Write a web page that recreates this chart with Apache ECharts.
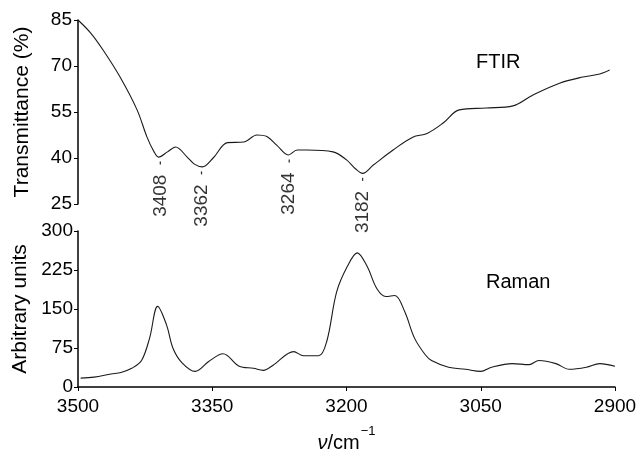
<!DOCTYPE html>
<html>
<head>
<meta charset="utf-8">
<script src="https://cdn.jsdelivr.net/npm/echarts@6/dist/echarts.min.js"></script>
<style>
  html, body { margin: 0; padding: 0; background: #fff; }
  #chart { width: 641px; height: 454px; }
</style>
</head>
<body>
<div id="chart"></div>
<script>
const xTicks = [2900, 3050, 3200, 3350, 3500];
const ftirTicks = [25, 40, 55, 70, 85];
const ramanTicks = [0, 75, 150, 225, 300];

const ftirWavenumber = [3500, 3486, 3472, 3453, 3434, 3423, 3415, 3410, 3400, 3391, 3378, 3370, 3361, 3349, 3333, 3315, 3300, 3289, 3278, 3265, 3255, 3244, 3215, 3200, 3190, 3182, 3170, 3148, 3126, 3110, 3092, 3074, 3044, 3014, 2992, 2962, 2936, 2917, 2906];
const ftirTransmittance = [85, 80.8, 75.2, 66.4, 55.7, 46.9, 42, 40.3, 42, 43.6, 40.3, 38, 37.1, 40, 45, 45.2, 47.5, 47, 44.2, 41, 42.6, 42.6, 42, 39.4, 36.5, 35, 37.7, 42.6, 46.8, 48, 51.4, 55.7, 56.3, 57, 60.5, 64.4, 66.4, 67.4, 68.7];

const ramanWavenumber = [3497, 3482, 3463, 3452, 3440, 3429, 3420, 3411, 3401, 3394, 3384, 3369, 3354, 3338, 3320, 3304, 3293, 3282, 3259, 3248, 3231, 3222, 3211, 3199, 3188, 3177, 3166, 3156, 3146, 3135, 3124, 3112, 3105, 3086, 3067, 3050, 3038, 3015, 2996, 2985, 2966, 2951, 2932, 2917, 2900];
const ramanIntensity = [17, 19, 25, 28, 36, 51, 94, 155, 119, 75, 47, 30, 49, 64, 40, 36, 32, 42, 68, 60, 60, 88, 183, 232, 258, 232, 189, 174, 176, 145, 94, 62, 51, 38, 34, 30, 38, 45, 43, 51, 45, 34, 38, 45, 40];

const peakLabels = [3408, 3362, 3264, 3182];

function nearestFtir(w) {
  let best = 0;
  ftirWavenumber.forEach((v, i) => {
    if (Math.abs(v - w) < Math.abs(ftirWavenumber[best] - w)) best = i;
  });
  return ftirTransmittance[best];
}

const font = 'Liberation Sans, Arial, sans-serif';
const ink = '#000';

const chart = echarts.init(document.getElementById('chart'));
chart.setOption({
  animation: false,
  textStyle: { fontFamily: font, color: ink },
  grid: [
    { left: 78, right: 26, top: 20, bottom: 250 },
    { left: 78, right: 26, top: 231, bottom: 64 }
  ],
  graphic: [
    { type: 'text', left: 476, top: 52, style: { text: 'FTIR', font: '20px ' + font, fill: ink } },
    { type: 'text', left: 486, top: 272, style: { text: 'Raman', font: '20px ' + font, fill: ink } }
  ],
  xAxis: [
    {
      type: 'value', gridIndex: 0, min: 2900, max: 3500, inverse: true,
      show: false
    },
    {
      type: 'value', gridIndex: 1, min: 2900, max: 3500, inverse: true,
      axisLine: { lineStyle: { color: ink, width: 1.5 } },
      axisTick: { length: 4, lineStyle: { color: ink }, customValues: xTicks },
      axisLabel: {
        customValues: xTicks, fontSize: 19, color: ink, margin: 10, fontFamily: font,
        formatter: v => String(v)
      },
      splitLine: { show: false },
      name: '{i|ν}{n|/cm}{s|−1}',
      nameLocation: 'middle',
      nameGap: 38,
      nameTextStyle: {
        rich: {
          i: { fontSize: 20, fontStyle: 'italic', fontFamily: font, color: ink, padding: [8, 0, 0, 0] },
          n: { fontSize: 20, fontFamily: font, color: ink, padding: [8, 0, 0, 0] },
          s: { fontSize: 13, fontFamily: font, color: ink, verticalAlign: 'top', padding: [0, 0, 0, 1] }
        }
      }
    }
  ],
  yAxis: [
    {
      type: 'value', gridIndex: 0, min: 25, max: 85,
      axisLine: { show: true, lineStyle: { color: ink, width: 1.5 } },
      axisTick: { show: true, length: 4, lineStyle: { color: ink }, customValues: ftirTicks },
      axisLabel: { customValues: ftirTicks, fontSize: 19, color: ink, margin: 6, fontFamily: font },
      splitLine: { show: false },
      name: 'Transmittance (%)', nameLocation: 'middle', nameGap: 45,
      nameTextStyle: { fontSize: 21, color: ink, fontFamily: font }
    },
    {
      type: 'value', gridIndex: 1, min: 0, max: 300,
      axisLine: { show: true, lineStyle: { color: ink, width: 1.5 } },
      axisTick: { show: true, length: 4, lineStyle: { color: ink }, customValues: ramanTicks },
      axisLabel: { customValues: ramanTicks, fontSize: 19, color: ink, margin: 5, fontFamily: font },
      splitLine: { show: false },
      name: 'Arbitrary units', nameLocation: 'middle', nameGap: 45,
      nameTextStyle: { fontSize: 21, color: ink, fontFamily: font }
    }
  ],
  series: [
    {
      type: 'line', xAxisIndex: 0, yAxisIndex: 0, smooth: 0.35, symbol: 'none',
      lineStyle: { color: '#1a1a1a', width: 1.1 },
      data: ftirWavenumber.map((w, i) => [w, ftirTransmittance[i]])
    },
    {
      type: 'scatter', xAxisIndex: 0, yAxisIndex: 0,
      symbol: 'rect', symbolSize: [1.3, 3], symbolOffset: [0, 6],
      itemStyle: { color: ink },
      label: {
        show: true, position: 'bottom', distance: 10, rotate: 90,
        align: 'right', verticalAlign: 'middle',
        fontSize: 19, color: ink, fontFamily: font,
        formatter: p => String(p.value[0])
      },
      data: peakLabels.map(w => [w, nearestFtir(w)])
    },
    {
      type: 'line', xAxisIndex: 1, yAxisIndex: 1, smooth: 0.35, symbol: 'none',
      lineStyle: { color: '#1a1a1a', width: 1.1 },
      data: ramanWavenumber.map((w, i) => [w, ramanIntensity[i]])
    }
  ]
});
</script>
</body>
</html>
